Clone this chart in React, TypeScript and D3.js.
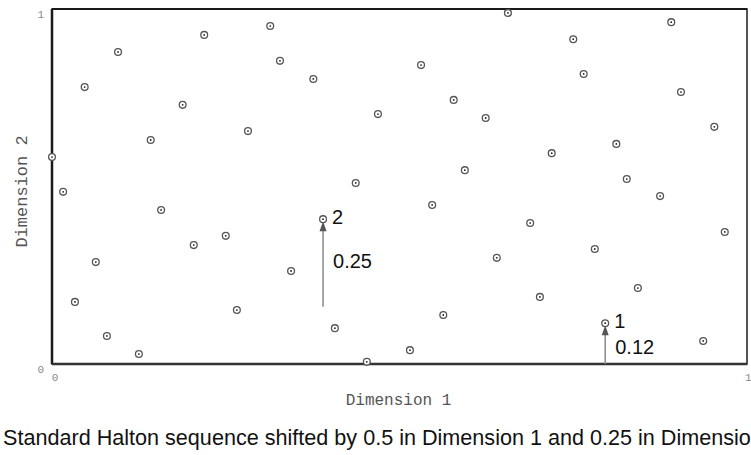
import { useEffect, useRef } from "react";
import * as d3 from "d3";

// shifted Halton points: [dim1, dim2]
const dim1 = [
  0.0, 0.016, 0.033, 0.047, 0.063, 0.079, 0.095, 0.125, 0.142, 0.157,
  0.188, 0.204, 0.219, 0.25, 0.266, 0.282, 0.314, 0.328, 0.344, 0.376,
  0.39, 0.407, 0.437, 0.453, 0.469, 0.515, 0.531, 0.547, 0.563, 0.578,
  0.594, 0.624, 0.64, 0.656, 0.688, 0.702, 0.719, 0.75, 0.765, 0.781,
  0.796, 0.812, 0.827, 0.843, 0.875, 0.891, 0.905, 0.937, 0.953, 0.968,
];
const dim2 = [
  0.583, 0.485, 0.175, 0.78, 0.287, 0.079, 0.879, 0.028, 0.631, 0.434,
  0.73, 0.335, 0.927, 0.361, 0.152, 0.656, 0.952, 0.854, 0.262, 0.803,
  0.408, 0.101, 0.51, 0.006, 0.704, 0.039, 0.842, 0.448, 0.138, 0.744,
  0.546, 0.693, 0.299, 0.989, 0.397, 0.189, 0.594, 0.915, 0.817, 0.324,
  0.115, 0.62, 0.521, 0.214, 0.473, 0.963, 0.766, 0.065, 0.668, 0.372,
];

// arrows marking the first two points
const arrowLabels = ["1", "2"];
const arrowShifts = ["0.12", "0.25"];
const arrowX = [0.796, 0.39];
const arrowFrom = [0, 0.161];
const arrowTo = [0.115, 0.408];

const xTicks = [0, 1];
const yTicks = [0, 1];
const xLabel = "Dimension 1";
const yLabel = "Dimension 2";
const caption =
  "Standard Halton sequence shifted by 0.5 in Dimension 1 and 0.25 in Dimension 2";

export default function App() {
  const svgRef = useRef<SVGSVGElement>(null);

  useEffect(() => {
    const W = 751;
    const H = 455;
    const m = { top: 9, right: 4, bottom: 91, left: 52 };
    const w = W - m.left - m.right;
    const h = H - m.top - m.bottom;

    const root = d3.select(svgRef.current);
    root.selectAll("*").remove();
    root.attr("width", W).attr("height", H);

    const svg = root.append("g").attr("transform", `translate(${m.left},${m.top})`);

    const x = d3.scaleLinear().domain([0, 1]).range([0, w]);
    const y = d3.scaleLinear().domain([0, 1]).range([h, 0]);

    const mono = "'Liberation Mono', 'DejaVu Sans Mono', monospace";
    const sans = "'Liberation Sans', Arial, sans-serif";

    // frame
    svg.append("rect")
      .attr("x", 0).attr("y", 0).attr("width", w).attr("height", h)
      .attr("fill", "none").attr("stroke", "#1a1a1a").attr("stroke-width", 1.5);
    svg.append("line")
      .attr("x1", 0).attr("x2", 0).attr("y1", 0).attr("y2", h)
      .attr("stroke", "#1a1a1a").attr("stroke-width", 2.5);
    svg.append("line")
      .attr("x1", 0).attr("x2", w).attr("y1", h).attr("y2", h)
      .attr("stroke", "#333").attr("stroke-width", 2.5);
    svg.append("line")
      .attr("x1", 0).attr("x2", w).attr("y1", 0).attr("y2", 0)
      .attr("stroke", "#1a1a1a").attr("stroke-width", 2);

    // ticks
    svg.selectAll(".xt").data(xTicks).enter().append("text")
      .attr("x", (d) => x(d) + (d === 0 ? 3 : -2))
      .attr("y", h + 17)
      .attr("text-anchor", d => d === 0 ? "middle" : "start")
      .attr("font-family", mono).attr("font-size", 11).attr("fill", "#888")
      .text((d) => d);
    svg.selectAll(".yt").data(yTicks).enter().append("text")
      .attr("x", -8)
      .attr("y", (d) => y(d) + 9)
      .attr("text-anchor", "end")
      .attr("font-family", mono).attr("font-size", 11).attr("fill", "#888")
      .text((d) => d);

    // axis titles
    svg.append("text")
      .attr("x", w / 2 - 1).attr("y", h + 41)
      .attr("text-anchor", "middle")
      .attr("font-family", mono).attr("font-size", 16).attr("fill", "#555")
      .text(xLabel);
    svg.append("text")
      .attr("transform", `translate(-25,${h / 2 + 5}) rotate(-90)`)
      .attr("text-anchor", "middle")
      .attr("font-family", mono).attr("font-size", 17).attr("fill", "#555")
      .text(yLabel);

    // arrows
    const arrows = arrowLabels.map((lab, i) => ({
      lab, shift: arrowShifts[i], x: arrowX[i], y0: arrowFrom[i], y1: arrowTo[i],
    }));
    const ag = svg.selectAll(".arrow").data(arrows).enter().append("g");
    ag.append("line")
      .attr("x1", (d) => x(d.x)).attr("x2", (d) => x(d.x))
      .attr("y1", (d) => y(d.y0)).attr("y2", (d) => y(d.y1) + 8)
      .attr("stroke", "#8a8a8a").attr("stroke-width", 1.5);
    ag.append("path")
      .attr("d", (d) => {
        const cx = x(d.x);
        const ty = y(d.y1) + 2;
        return `M${cx},${ty} L${cx - 3.5},${ty + 10} L${cx + 3.5},${ty + 10} Z`;
      })
      .attr("fill", "#555");
    ag.append("text")
      .attr("x", (d) => x(d.x) + 9)
      .attr("y", (d) => y(d.y1) + 5)
      .attr("font-family", sans).attr("font-size", 20).attr("fill", "#111")
      .text((d) => d.lab);
    ag.append("text")
      .attr("x", (d) => x(d.x) + 10)
      .attr("y", (d) => (y(d.y0) + y(d.y1)) / 2 + 5 + (d.y0 === 0 ? 5 : 0))
      .attr("font-family", sans).attr("font-size", 20).attr("fill", "#111")
      .text((d) => d.shift);

    // points
    const pts = dim1.map((v, i) => [v, dim2[i]]);
    const pg = svg.selectAll(".pt").data(pts).enter().append("g");
    pg.append("circle")
      .attr("cx", (d) => x(d[0])).attr("cy", (d) => y(d[1])).attr("r", 3.4)
      .attr("fill", "#fff").attr("stroke", "#555").attr("stroke-width", 1.3);
    pg.append("circle")
      .attr("cx", (d) => x(d[0])).attr("cy", (d) => y(d[1])).attr("r", 0.9)
      .attr("fill", "#222");

    // caption below the chart, runs past the right edge as in the original
    root.append("text")
      .attr("x", 3).attr("y", 445)
      .attr("font-family", sans).attr("font-size", 21.6).attr("fill", "#111")
      .text(caption);
  }, []);

  return (
    <svg
      ref={svgRef}
      style={{ position: "absolute", left: 0, top: 0, display: "block", background: "#fff" }}
    />
  );
}
